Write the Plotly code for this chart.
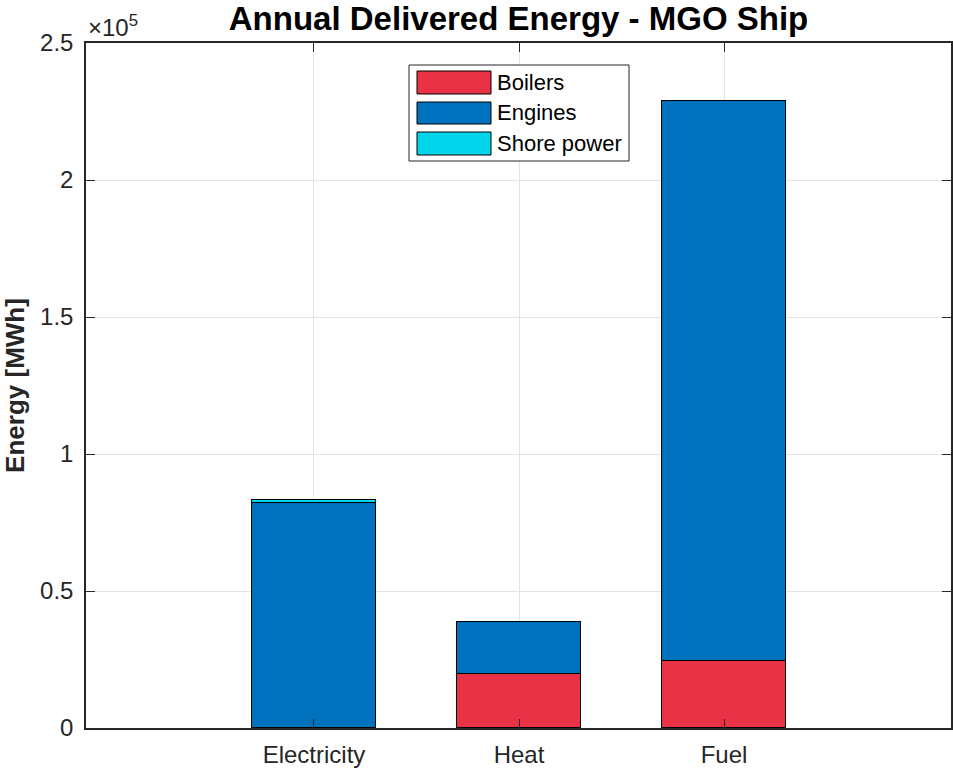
import plotly.graph_objects as go

# Annual delivered energy per carrier, MWh
categories = ["Electricity", "Heat", "Fuel"]
series_names = ["Boilers", "Engines", "Shore power"]
boilers = [0, 19700, 24300]
engines = [82200, 19000, 204400]
shore_power = [1100, 0, 0]
y_ticks = [0, 0.5, 1, 1.5, 2, 2.5]
colors = ["#EA3247", "#0072BD", "#00D5EC"]

values = [boilers, engines, shore_power]
x_pos = list(range(len(categories)))

# plot area in pixels
L, R, T, B = 86, 951, 43, 728
W, H = 953, 769
FONT = "Liberation Sans, Arial, sans-serif"

fig = go.Figure()
for name, vals, col in zip(series_names, values, colors):
    fig.add_trace(go.Bar(
        x=x_pos, y=vals, name=name, width=0.605,
        marker=dict(color=col, line=dict(color="#000000", width=1.2)),
        showlegend=False,
    ))

def px_x(p):
    return (p - L) / (R - L)

def px_y(p):
    return (B - p) / (B - T)

shapes = []
annotations = []
# legend box
shapes.append(dict(type="rect", xref="paper", yref="paper",
                   x0=px_x(409), x1=px_x(629), y0=px_y(161), y1=px_y(65),
                   line=dict(color="#262626", width=1), fillcolor="white", layer="above"))
rows = [(71, 94), (102, 124), (132, 155)]
for (y0, y1), name, col in zip(rows, series_names, colors):
    shapes.append(dict(type="rect", xref="paper", yref="paper",
                       x0=px_x(417), x1=px_x(491), y0=px_y(y1), y1=px_y(y0),
                       line=dict(color="#000000", width=1), fillcolor=col, layer="above"))
    annotations.append(dict(text=name, xref="paper", yref="paper",
                            x=px_x(495), y=px_y((y0 + y1) / 2),
                            xanchor="left", yanchor="middle", showarrow=False,
                            font=dict(family=FONT, size=22, color="#000000")))

# exponent label of the y axis
annotations.append(dict(text="\u00d710<sup>5</sup>", xref="paper", yref="paper",
                        x=px_x(86), y=px_y(43), xanchor="left", yanchor="bottom",
                        showarrow=False, font=dict(family=FONT, size=24, color="#262626")))

fig.update_layout(
    width=W, height=H,
    margin=dict(l=L, r=W - R, t=T, b=H - B),
    plot_bgcolor="white", paper_bgcolor="white",
    barmode="stack", bargap=0,
    title=dict(text="<b>Annual Delivered Energy - MGO Ship</b>",
               x=(L + R) / 2 / W, xanchor="center",
               y=1 - 18 / H, yanchor="middle",
               font=dict(family=FONT, size=33, color="#000000")),
    xaxis=dict(
        range=[-1.112, 3.107], tickvals=x_pos, ticktext=categories,
        showgrid=True, gridcolor="#E3E3E3", gridwidth=1,
        ticks="inside", ticklen=9, tickcolor="#262626",
        showline=True, linecolor="#262626", linewidth=1.5, mirror="ticks",
        zeroline=False, ticklabelstandoff=4, automargin=False,
        tickfont=dict(family=FONT, size=24, color="#262626"),
    ),
    yaxis=dict(
        range=[0, 250000], tickvals=[v * 1e5 for v in y_ticks],
        ticktext=[f"{v:g}" for v in y_ticks],
        showgrid=True, gridcolor="#E3E3E3", gridwidth=1,
        ticks="inside", ticklen=9, tickcolor="#262626",
        showline=True, linecolor="#262626", linewidth=1.5, mirror="ticks",
        zeroline=False, ticklabelstandoff=6, automargin=False,
        tickfont=dict(family=FONT, size=24, color="#262626"),
        title=dict(text="<b>Energy [MWh]</b>", standoff=8,
                   font=dict(family=FONT, size=26, color="#262626")),
    ),
    shapes=shapes,
    annotations=annotations,
)

fig.write_html("out.html")
